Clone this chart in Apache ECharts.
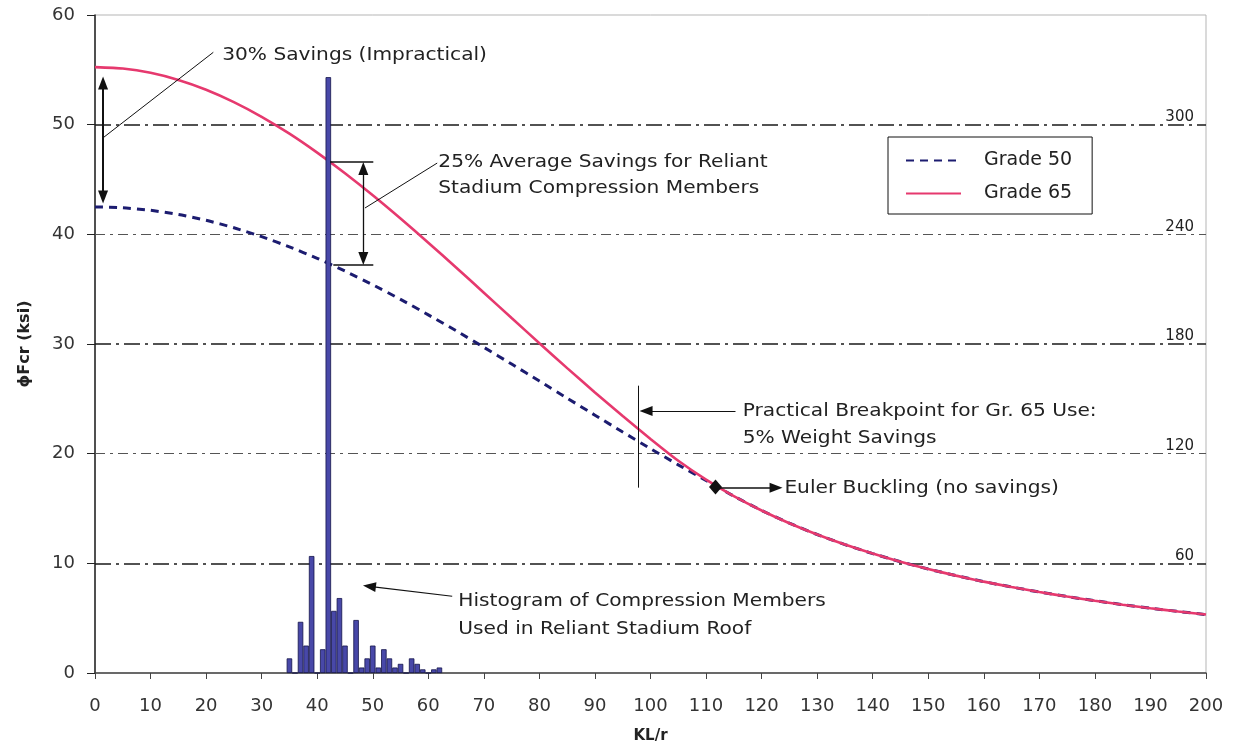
<!DOCTYPE html>
<html>
<head>
<meta charset="utf-8">
<script src="https://cdn.jsdelivr.net/npm/echarts@6/dist/echarts.min.js"></script>
<style>
html,body{margin:0;padding:0;background:#fff;}
#chart{width:1234px;height:742px;}
</style>
</head>
<body>
<div id="chart"></div>
<script>
// ---- data ----
var klValues = [0,5,10,15,20,25,30,35,40,45,50,55,60,65,70,75,80,85,90,95,100,105,110,115,120,125,130,135,140,145,150,155,160,165,170,175,180,185,190,195,200];
var grade50 = [42.5,42.42,42.19,41.81,41.28,40.6,39.79,38.86,37.81,36.65,35.4,34.07,32.66,31.21,29.7,28.17,26.62,25.06,23.51,21.97,20.46,18.98,17.55,16.13,14.82,13.66,12.63,11.71,10.89,10.15,9.48,8.88,8.33,7.84,7.38,6.97,6.59,6.23,5.91,5.61,5.33];
var grade65 = [55.25,55.12,54.73,54.08,53.19,52.06,50.72,49.18,47.45,45.57,43.56,41.44,39.24,36.98,34.68,32.37,30.07,27.8,25.58,23.43,21.34,19.35,17.63,16.13,14.82,13.66,12.63,11.71,10.89,10.15,9.48,8.88,8.33,7.84,7.38,6.97,6.59,6.23,5.91,5.61,5.33];
var histKL = [35,36,37,38,39,40,41,42,43,44,45,46,47,48,49,50,51,52,53,54,55,56,57,58,59,60,61,62];
var histCount = [8,0,28,15,64,0,13,326,34,41,15,0,29,3,8,15,3,13,8,3,5,0,8,5,2,0,2,3];
var xTicks = {min:0, max:200, interval:10};
var yTicks = {min:0, max:60, interval:10};
var countTicks = {min:0, max:360, interval:60};
var gridValues = [10,20,30,40,50];
var seriesNames = ['Grade 50','Grade 65'];

// annotation definitions (data coordinates)
var annoTexts = [
  {x:22.9, y:56.3, text:'30% Savings (Impractical)'},
  {x:61.8, y:46.6, text:'25% Average Savings for Reliant'},
  {x:61.8, y:44.2, text:'Stadium Compression Members'},
  {x:116.6, y:23.9, text:'Practical Breakpoint for Gr. 65 Use:'},
  {x:116.6, y:21.4, text:'5% Weight Savings'},
  {x:124.1, y:16.8, text:'Euler Buckling (no savings)'},
  {x:65.4, y:6.5, text:'Histogram of Compression Members'},
  {x:65.4, y:4.0, text:'Used in Reliant Stadium Roof'}
];
// [x1,y1,x2,y2,startSymbol,endSymbol,width]
var annoLines = [
  [1.45,53.8,1.45,43.4,'triangle','triangle',2],
  [1.45,48.8,21.3,56.6,'none','none',1],
  [42.3,46.6,50.1,46.6,'none','none',1.5],
  [42.9,37.2,50.1,37.2,'none','none',1.5],
  [48.3,46.0,48.3,37.8,'triangle','triangle',1.3],
  [48.6,42.4,61.6,46.5,'none','none',1],
  [97.8,26.2,97.8,16.9,'none','none',1],
  [115.3,23.9,99.2,23.9,'none','triangle',1.2],
  [111.7,16.9,122.6,16.9,'none','triangle',1.5],
  [64.3,7.0,49.4,7.9,'none','triangle',1.2]
];
var diamondPt = [111.7, 16.95];

var FONT = 'DejaVu Sans';

function pairs(xs, ys){ return xs.map(function(x,i){ return [x, ys[i]]; }); }

var chart = echarts.init(document.getElementById('chart'));

var gridLineData = gridValues.map(function(v, i){
  var strong = (i % 2 === 0);
  return {
    yAxis: v,
    lineStyle: {
      color: strong ? '#1a1a1a' : '#555',
      width: strong ? 1.6 : 1,
      type: strong ? [16,5,3,5] : [10,5,3,5]
    }
  };
});

var annoLineData = annoLines.map(function(l){
  return [
    {coord:[l[0],l[1]], symbol:l[4], lineStyle:{width:l[6], color:'#111', type:'solid'}},
    {coord:[l[2],l[3]], symbol:l[5]}
  ];
});

var option = {
  animation: false,
  backgroundColor: '#fff',
  grid: {left:95, right:28, top:15, bottom:69, containLabel:false, outerBoundsMode:'none', show:true, borderColor:'#b5b5b5', borderWidth:1, backgroundColor:'transparent'},
  legend: {
    data: seriesNames,
    orient: 'vertical',
    left: 888, top: 137,
    itemWidth: 55, itemHeight: 14,
    itemGap: 14,
    padding: [14, 20, 11, 17],
    borderColor: '#111', borderWidth: 1,
    backgroundColor: '#fff',
    itemStyle: {opacity: 0},
    textStyle: {fontFamily: FONT, fontSize: 19, color:'#222', padding:[0,0,0,18]}
  },
  xAxis: {
    type: 'value', min: xTicks.min, max: xTicks.max, interval: xTicks.interval,
    name: 'KL/r', nameLocation: 'middle', nameGap: 56,
    nameTextStyle: {fontFamily: FONT, fontSize: 15, fontWeight:'bold', color:'#222'},
    axisLine: {lineStyle: {color:'#444', width:1.5}},
    axisTick: {show:true, length:6, lineStyle:{color:'#444'}},
    axisLabel: {fontFamily: FONT, fontSize: 18, color:'#333', margin: 24},
    splitLine: {show:false}
  },
  yAxis: [
    {
      type: 'value', min: yTicks.min, max: yTicks.max, interval: yTicks.interval,
      name: 'ϕFcr (ksi)', nameLocation: 'middle', nameGap: 62,
      nameTextStyle: {fontFamily: FONT, fontSize: 16, fontWeight:'bold', color:'#222'},
      axisLine: {show:true, lineStyle:{color:'#222', width:1.5}},
      axisTick: {show:true, length:8, lineStyle:{color:'#222'}},
      axisLabel: {fontFamily: FONT, fontSize: 18, color:'#333', margin: 20},
      splitLine: {show:false}
    },
    {
      type: 'value', min: countTicks.min, max: countTicks.max, interval: countTicks.interval,
      position: 'right',
      axisLine: {show:false}, axisTick: {show:false},
      axisLabel: {
        inside: true, fontFamily: FONT, fontSize: 15, color:'#222', margin: 12,
        verticalAlign: 'bottom',
        formatter: function(v){ return (v === countTicks.min || v === countTicks.max) ? '' : String(v); }
      },
      splitLine: {show:false}
    }
  ],
  series: [
    {
      name: 'Histogram', type: 'bar', xAxisIndex: 0, yAxisIndex: 1,
      data: pairs(histKL, histCount),
      barWidth: 5.5,
      itemStyle: {color:'#4848a8', borderColor:'#14144a', borderWidth:0.8},
      z: 4
    },
    {
      name: seriesNames[0], type: 'line', xAxisIndex: 0, yAxisIndex: 0,
      data: pairs(klValues, grade50),
      symbol: 'none', smooth: 0.2,
      lineStyle: {color:'#1c1c70', width:3, type:[8,6]},
      itemStyle: {color:'#1c1c70'},
      z: 3,
      markLine: {
        silent: true, symbol: ['none','none'], label: {show:false},
        data: gridLineData, z: 1
      }
    },
    {
      name: seriesNames[1], type: 'line', xAxisIndex: 0, yAxisIndex: 0,
      data: pairs(klValues, grade65),
      symbol: 'none', smooth: 0.2,
      lineStyle: {color:'#e6396e', width:2.6},
      itemStyle: {color:'#e6396e'},
      z: 3
    },
    {
      name: 'annotations', type: 'line', xAxisIndex: 0, yAxisIndex: 0,
      data: [],
      z: 6,
      markLine: {
        silent: true, symbolSize: [10, 13], label: {show:false},
        lineStyle: {color:'#111', type:'solid'},
        itemStyle: {color:'#111'},
        data: annoLineData
      },
      markPoint: {
        silent: true,
        data: [{coord: diamondPt, symbol:'diamond', symbolSize:[13,15], itemStyle:{color:'#111'}, label:{show:false}}]
      }
    }
  ]
};

chart.setOption(option);

var graphics = annoTexts.map(function(t){
  var p = chart.convertToPixel({xAxisIndex:0, yAxisIndex:0}, [t.x, t.y]);
  return {
    type: 'text', x: p[0], y: p[1], scaleX: 1.12, z: 10, silent: true,
    style: {text: t.text, fontFamily: FONT, fontSize: 18, fill:'#222', textVerticalAlign:'middle', verticalAlign:'middle', textAlign:'left', align:'left'}
  };
});
chart.setOption({graphic: graphics});
</script>
</body>
</html>
